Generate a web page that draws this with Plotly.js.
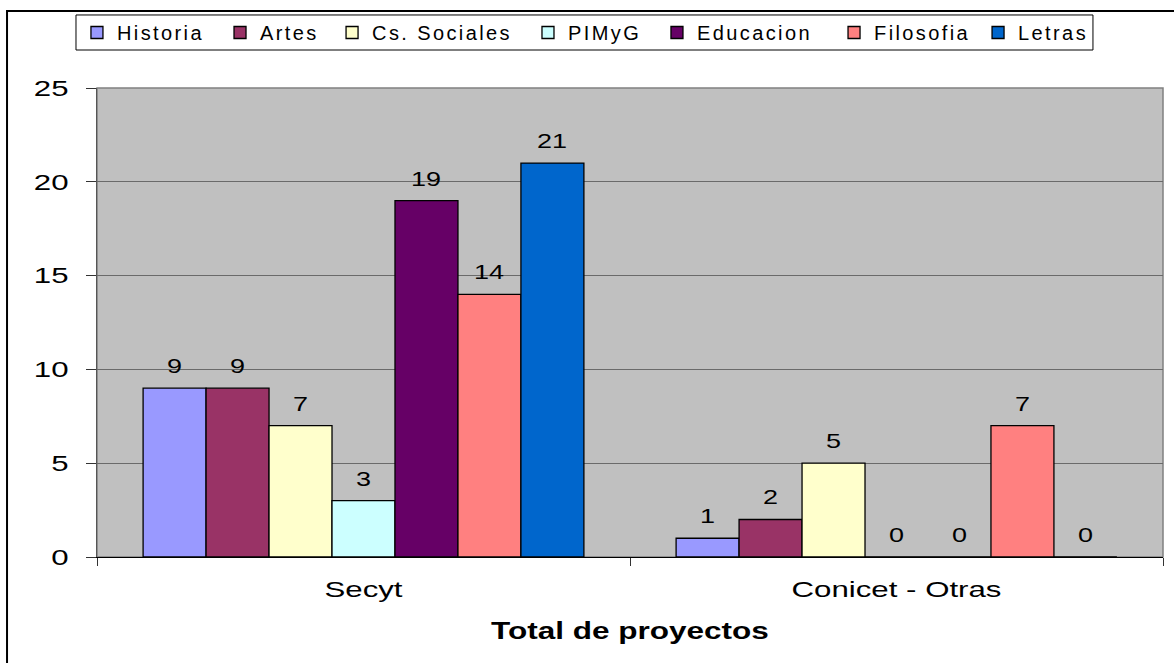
<!DOCTYPE html>
<html>
<head>
<meta charset="utf-8">
<script src="https://cdn.plot.ly/plotly-3.0.1.min.js"></script>
<style>
  html, body { margin: 0; padding: 0; background: #fff; }
  #chart { width: 1174px; height: 663px; }
  text.legendtext, text.legend2text, text.legend3text, text.legend4text,
  text.legend5text, text.legend6text, text.legend7text { letter-spacing: 0.12em; }
</style>
</head>
<body>
<div id="chart"></div>
<script>
// ---- data ----
const categories = ["Secyt", "Conicet - Otras"];
const seriesNames = ["Historia", "Artes", "Cs. Sociales", "PIMyG", "Educacion", "Filosofia", "Letras"];
const historia   = [9, 1];
const artes      = [9, 2];
const csSociales = [7, 5];
const pimyg      = [3, 0];
const educacion  = [19, 0];
const filosofia  = [14, 7];
const letras     = [21, 0];
const yTickVals  = [0, 5, 10, 15, 20, 25];
const xTitle = "Total de proyectos";

const seriesValues = [historia, artes, csSociales, pimyg, educacion, filosofia, letras];
const colors = ["#9999FF", "#993366", "#FFFFCC", "#CCFFFF", "#660066", "#FF8080", "#0066CC"];

// legend entry positions (paper x of each entry, as in the original's irregular legend)
const legendX = [-0.0188, 0.1154, 0.2205, 0.4043, 0.5253, 0.6914, 0.8265];

const FONT = "Arial, 'Liberation Sans', sans-serif";
const bargap = 0.173;

const legendKey = i => (i === 0 ? "legend" : "legend" + (i + 1));

const traces = seriesNames.map((name, i) => ({
  type: "bar",
  name: name,
  x: categories,
  y: seriesValues[i],
  legend: legendKey(i),
  marker: { color: colors[i], line: { color: "#000000", width: 1.3 } },
  hoverinfo: "skip"
}));

// data labels placed through the category axis (serial numbers) and the value axis
const nS = seriesNames.length;
const slot = (1 - bargap) / nS;
const annotations = [];
seriesValues.forEach((vals, i) => {
  vals.forEach((v, j) => {
    annotations.push({
      xref: "x", yref: "y",
      x: j + (i - (nS - 1) / 2) * slot,
      y: v,
      text: String(v),
      showarrow: false,
      xanchor: "center", yanchor: "bottom",
      yshift: 9,
      font: { family: FONT, size: 20, color: "#000000" }
    });
  });
});

const layout = {
  width: 1174, height: 663,
  margin: { l: 97, r: 11, t: 88, b: 106, pad: 0 },
  paper_bgcolor: "#FFFFFF",
  plot_bgcolor: "#C0C0C0",
  barmode: "group",
  bargap: bargap,
  bargroupgap: 0,
  font: { family: FONT, size: 20, color: "#000000" },
  showlegend: true,
  xaxis: {
    type: "category",
    showgrid: false,
    showline: true, linecolor: "#000000", linewidth: 1.3,
    ticks: "outside", tickson: "boundaries", ticklen: 8, tickcolor: "#333333", tickwidth: 1,
    tickfont: { family: FONT, size: 22, color: "#000000" },
    ticklabelstandoff: 12,
    automargin: false,
    title: { text: "<b>" + xTitle + "</b>", font: { family: FONT, size: 23, color: "#000000" }, standoff: 22 }
  },
  yaxis: {
    range: [0, 25],
    tickvals: yTickVals,
    ticktext: yTickVals.map(String),
    showgrid: true, gridcolor: "#6a6a6a", gridwidth: 1,
    zeroline: false,
    showline: true, linecolor: "#555555", linewidth: 1,
    ticks: "outside", ticklen: 10, tickcolor: "#333333", tickwidth: 1,
    tickfont: { family: FONT, size: 22, color: "#000000" },
    ticklabelstandoff: 13,
    automargin: false,
    fixedrange: true
  },
  annotations: annotations,
  shapes: [
    { type: "rect", xref: "paper", yref: "paper", x0: 0, x1: 1, y0: 0, y1: 1,
      line: { color: "#808080", width: 1.5 }, fillcolor: "rgba(0,0,0,0)", layer: "below" },
    { type: "rect", xref: "paper", yref: "paper", x0: -0.0844, x1: 1.2, y0: -0.4, y1: 1.1642,
      line: { color: "#000000", width: 2 }, fillcolor: "rgba(0,0,0,0)", layer: "below" },
    { type: "rect", xref: "paper", yref: "paper", x0: -0.0197, x1: 0.9343, y0: 1.081, y1: 1.1557,
      line: { color: "#000000", width: 1 }, fillcolor: "#FFFFFF", layer: "below" }
  ]
};

seriesNames.forEach((n, i) => {
  layout[legendKey(i)] = {
    orientation: "h",
    x: legendX[i], xanchor: "left",
    y: 1.1183, yanchor: "middle",
    bgcolor: "rgba(0,0,0,0)",
    borderwidth: 0,
    font: { family: FONT, size: 20, color: "#000000" }
  };
});

// horizontally stretch text about its anchor, like the original's wide lettering
function stretch(selector, s) {
  document.querySelectorAll(selector).forEach(t => {
    const x = parseFloat(t.getAttribute("x")) || 0;
    const tr = t.getAttribute("transform") || "";
    t.setAttribute("transform", tr + " translate(" + x + ",0) scale(" + s + ",1) translate(" + (-x) + ",0)");
  });
}

Plotly.newPlot("chart", traces, layout, { staticPlot: true, displayModeBar: false }).then(() => {
  stretch("#chart .xtick text", 1.42);
  stretch("#chart .ytick text", 1.42);
  stretch("#chart text.xtitle", 1.37);
  stretch("#chart text.annotation-text", 1.35);
});
</script>
</body>
</html>
